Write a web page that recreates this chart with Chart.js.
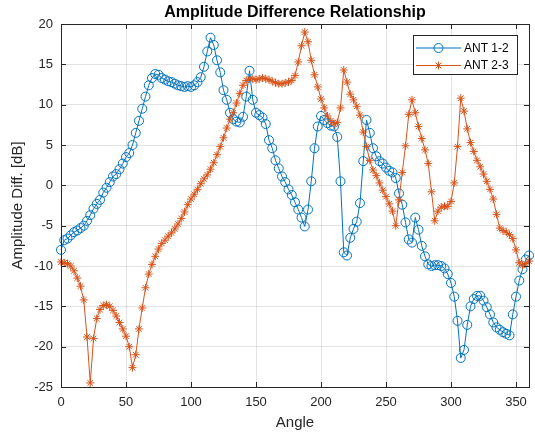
<!DOCTYPE html>
<html>
<head>
<meta charset="utf-8">
<title>Amplitude Difference Relationship</title>
<script src="https://cdn.jsdelivr.net/npm/chart.js@4.4.1/dist/chart.umd.min.js"></script>
<style>
  html, body { margin: 0; padding: 0; background: #fff; }
  #wrap { width: 535px; height: 434px; }
</style>
</head>
<body>
<div id="wrap"><canvas id="grafico" width="535" height="434"></canvas></div>
<script>
// angulos medidos (graus)
const angulos = [
    0, 2.5, 5, 7.5, 10, 12.5, 15, 17.5, 20, 22.5,
    25, 27.5, 30, 32.5, 35, 37.5, 40, 42.5, 45, 47.5,
    50, 52.5, 55, 57.5, 60, 62.5, 65, 67.5, 70, 72.5,
    75, 77.5, 80, 82.5, 85, 87.5, 90, 92.5, 95, 97.5,
    100, 102.5, 105, 107.5, 110, 112.5, 115, 117.5, 120, 122.5,
    125, 127.5, 130, 132.5, 135, 137.5, 140, 142.5, 145, 147.5,
    150, 152.5, 155, 157.5, 160, 162.5, 165, 167.5, 170, 172.5,
    175, 177.5, 180, 182.5, 185, 187.5, 190, 192.5, 195, 197.5,
    200, 202.5, 205, 207.5, 210, 212.5, 215, 217.5, 220, 222.5,
    225, 227.5, 230, 232.5, 235, 237.5, 240, 242.5, 245, 247.5,
    250, 252.5, 255, 257.5, 260, 262.5, 265, 267.5, 270, 272.5,
    275, 277.5, 280, 282.5, 285, 287.5, 290, 292.5, 295, 297.5,
    300, 302.5, 305, 307.5, 310, 312.5, 315, 317.5, 320, 322.5,
    325, 327.5, 330, 332.5, 335, 337.5, 340, 342.5, 345, 347.5,
    350, 352.5, 355, 357.5, 360
];

// diferenca de amplitude ANT 1-2 (dB)
const ant12 = [
    -8.0, -6.8, -6.6, -6.2, -5.8, -5.6, -5.3, -5.0, -4.4, -3.7,
    -2.9, -2.3, -1.8, -0.9, -0.3, 0.4, 1.1, 1.4, 2.0, 2.7,
    3.5, 4.0, 5.0, 6.5, 8.0, 9.5, 11.0, 12.4, 13.3, 13.8,
    13.7, 13.3, 13.1, 12.9, 12.8, 12.6, 12.4, 12.3, 12.2, 12.3,
    12.2, 12.4, 12.8, 13.4, 14.7, 16.6, 18.3, 17.4, 15.5, 14.0,
    11.8, 10.6, 9.0, 8.2, 7.9, 7.8, 8.5, 11.0, 14.2, 10.6,
    9.0, 8.7, 8.4, 7.6, 5.6, 4.6, 3.1, 2.1, 1.1, 0.4,
    -0.5, -1.2, -2.1, -3.0, -4.0, -5.1, -3.0, 0.5, 4.6, 7.3,
    8.6, 8.1, 7.7, 7.4, 7.3, 6.0, 0.5, -8.3, -8.7, -6.5,
    -5.4, -4.5, -2.2, 3.0, 8.1, 6.5, 4.6, 3.6, 3.0, 2.7,
    2.2, 1.8, 1.6, 0.9, -1.0, -2.4, -4.6, -6.7, -7.1, -4.0,
    -5.5, -7.5, -8.8, -9.8, -10.0, -9.9, -9.9, -10.0, -10.3, -11.0,
    -12.1, -13.8, -16.8, -21.4, -20.4, -17.3, -15.0, -14.1, -13.7, -13.7,
    -14.3, -15.1, -16.0, -17.0, -17.6, -17.9, -18.2, -18.4, -18.6, -16.0,
    -13.8, -11.8, -10.4, -9.2, -8.7
];

// diferenca de amplitude ANT 2-3 (dB)
const ant23 = [
    -9.5, -9.6, -9.7, -10.0, -10.6, -11.5, -12.5, -14.2, -18.8, -24.5,
    -19.0, -16.5, -15.4, -14.9, -14.8, -15.0, -15.5, -16.2, -17.0, -17.8,
    -18.7, -20.0, -22.6, -21.0, -17.8, -15.2, -12.7, -11.0, -9.8, -8.8,
    -7.9, -7.2, -6.8, -6.3, -5.9, -5.4, -4.8, -4.1, -3.3, -2.4,
    -1.7, -1.1, -0.5, 0.2, 0.8, 1.3, 2.0, 2.8, 3.8, 4.8,
    5.9, 7.1, 8.2, 9.0, 10.2, 11.4, 12.4, 13.0, 13.2, 13.2,
    13.1, 13.2, 13.3, 13.2, 13.1, 12.9, 12.7, 12.6, 12.6, 12.7,
    12.8, 13.0, 13.6, 15.3, 17.3, 19.0, 17.8, 15.5, 13.7, 12.2,
    10.7, 9.6, 8.6, 8.0, 7.6, 7.8, 9.6, 14.3, 12.8, 11.3,
    10.6, 9.8, 8.7, 6.6, 4.8, 3.1, 1.9, 1.2, 0.3, -0.6,
    -1.4, -2.3, -3.2, -5.0, -1.8, 1.6, 4.9, 8.8, 10.6, 9.0,
    7.3, 5.8, 4.4, 2.7, -0.8, -4.4, -3.2, -2.7, -2.6, -2.6,
    -2.0, 0.3, 4.8, 10.8, 9.2, 7.0, 5.3, 4.2, 3.1, 2.3,
    1.4, 0.5, -0.5, -1.7, -3.6, -5.3, -5.6, -5.8, -6.1, -6.6,
    -8.0, -9.6, -9.9, -9.7, -9.4
];

const xTicks = [0, 50, 100, 150, 200, 250, 300, 350];
const yTicks = [-25, -20, -15, -10, -5, 0, 5, 10, 15, 20];

const corEixo = '#262626';
const corGrade = 'rgba(38, 38, 38, 0.13)';

Chart.defaults.font.family = "'Liberation Sans', Arial, sans-serif";
Chart.defaults.color = corEixo;

// titulo centralizado sobre a area do grafico (e nao sobre o canvas todo)
const tituloEixos = {
    id: 'tituloEixos',
    afterDraw(chart) {
        const { ctx, chartArea } = chart;
        ctx.save();
        ctx.font = "bold 16px 'Liberation Sans', Arial, sans-serif";
        ctx.fillStyle = '#000';
        ctx.textAlign = 'center';
        ctx.textBaseline = 'middle';
        ctx.fillText('Amplitude Difference Relationship', (chartArea.left + chartArea.right) / 2, 12.5);
        ctx.restore();
    }
};

// caixa em volta dos eixos + marcas de tick para dentro (estilo matlab)
const moldura = {
    id: 'moldura',
    afterDatasetsDraw(chart) {
        const { ctx, chartArea: a, scales } = chart;
        const tam = 5;
        ctx.save();
        ctx.strokeStyle = corEixo;
        ctx.lineWidth = 1;
        ctx.beginPath();
        xTicks.forEach(v => {
            const px = Math.round(scales.x.getPixelForValue(v)) + 0.5;
            ctx.moveTo(px, a.bottom); ctx.lineTo(px, a.bottom - tam);
            ctx.moveTo(px, a.top); ctx.lineTo(px, a.top + tam);
        });
        yTicks.forEach(v => {
            const py = Math.round(scales.y.getPixelForValue(v)) + 0.5;
            ctx.moveTo(a.left, py); ctx.lineTo(a.left + tam, py);
            ctx.moveTo(a.right, py); ctx.lineTo(a.right - tam, py);
        });
        ctx.stroke();
        ctx.strokeRect(Math.round(a.left) + 0.5, Math.round(a.top) + 0.5,
            Math.round(a.right - a.left), Math.round(a.bottom - a.top));
        ctx.restore();
    }
};

// legenda com linha + marcador, dentro do grafico no canto superior direito
const legendaCaixa = {
    id: 'legendaCaixa',
    afterDraw(chart) {
        const { ctx, chartArea: a } = chart;
        const x0 = Math.round(a.right) - 116;
        const y0 = Math.round(a.top) + 11;
        const w = 104, h = 39;
        ctx.save();
        ctx.fillStyle = '#fff';
        ctx.fillRect(x0, y0, w, h);
        ctx.strokeStyle = corEixo;
        ctx.lineWidth = 1;
        ctx.strokeRect(x0 + 0.5, y0 + 0.5, w, h);

        chart.data.datasets.forEach((ds, i) => {
            const cy = y0 + 13 + i * 17.5;
            const cx = x0 + 25.5;
            ctx.strokeStyle = ds.borderColor;
            ctx.lineWidth = 1;
            ctx.beginPath();
            ctx.moveTo(x0 + 3, cy);
            ctx.lineTo(x0 + 48, cy);
            ctx.stroke();

            ctx.beginPath();
            if (ds.pointStyle === 'circle') {
                ctx.arc(cx, cy, ds.pointRadius, 0, Math.PI * 2);
            } else {
                const r = ds.pointRadius;
                const d = r * Math.SQRT1_2;
                ctx.moveTo(cx - r, cy); ctx.lineTo(cx + r, cy);
                ctx.moveTo(cx, cy - r); ctx.lineTo(cx, cy + r);
                ctx.moveTo(cx - d, cy - d); ctx.lineTo(cx + d, cy + d);
                ctx.moveTo(cx - d, cy + d); ctx.lineTo(cx + d, cy - d);
            }
            ctx.stroke();

            ctx.fillStyle = '#000';
            ctx.font = "12px 'Liberation Sans', Arial, sans-serif";
            ctx.textAlign = 'left';
            ctx.textBaseline = 'middle';
            ctx.fillText(ds.label, x0 + 51, cy + 0.5);
        });
        ctx.restore();
    }
};

const pontos = serie => angulos.map((a, i) => ({ x: a, y: serie[i] }));

new Chart(document.getElementById('grafico'), {
    type: 'scatter',
    data: {
        datasets: [
            {
                label: 'ANT 1-2',
                data: pontos(ant12),
                showLine: true,
                borderColor: '#0072BD',
                borderWidth: 1,
                pointStyle: 'circle',
                pointRadius: 4.5,
                pointBorderWidth: 1,
                pointBorderColor: '#0072BD',
                pointBackgroundColor: 'rgba(0,0,0,0)',
                clip: false,
                order: 1
            },
            {
                label: 'ANT 2-3',
                data: pontos(ant23),
                showLine: true,
                borderColor: '#D95319',
                borderWidth: 1,
                pointStyle: 'star',
                pointRadius: 4,
                pointBorderWidth: 1,
                pointBorderColor: '#D95319',
                pointBackgroundColor: 'rgba(0,0,0,0)',
                clip: false,
                order: 0
            }
        ]
    },
    options: {
        responsive: false,
        animation: false,
        devicePixelRatio: 1,
        layout: { padding: { top: 24, right: 5, left: 0, bottom: 0 } },
        plugins: {
            legend: { display: false },
            tooltip: { enabled: false }
        },
        scales: {
            x: {
                type: 'linear',
                min: 0,
                max: 360,
                afterBuildTicks: s => { s.ticks = xTicks.map(v => ({ value: v })); },
                afterFit: s => { s.height = 47; },
                grid: { color: corGrade, drawTicks: false },
                border: { display: false },
                ticks: { padding: 8, font: { size: 13 }, color: corEixo, maxRotation: 0 },
                title: {
                    display: true,
                    text: 'Angle',
                    font: { size: 15 },
                    color: corEixo,
                    padding: { top: 2, bottom: 2 }
                }
            },
            y: {
                type: 'linear',
                min: -25,
                max: 20,
                afterBuildTicks: s => { s.ticks = yTicks.map(v => ({ value: v })); },
                afterFit: s => { s.width = 61; },
                grid: { color: corGrade, drawTicks: false },
                border: { display: false },
                ticks: { padding: 8, font: { size: 13 }, color: corEixo },
                title: {
                    display: true,
                    text: 'Amplitude Diff. [dB]',
                    font: { size: 15 },
                    color: corEixo,
                    padding: { top: 9, bottom: 9 }
                }
            }
        }
    },
    plugins: [moldura, legendaCaixa, tituloEixos]
});
</script>
</body>
</html>
